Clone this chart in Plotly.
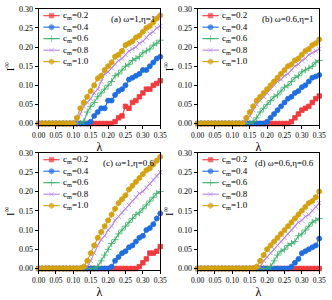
import plotly.graph_objects as go

lam = [round(i * 0.01, 2) for i in range(36)]

def pad(vals):
    return [0.0] * (36 - len(vals)) + vals

# Panel (a) omega=1, eta=1
a_c02 = pad([0.005, 0.015, 0.02, 0.045, 0.04, 0.055, 0.06, 0.07, 0.08, 0.09, 0.09, 0.10, 0.105, 0.112])
a_c04 = pad([0.005, 0.02, 0.03, 0.04, 0.04, 0.06, 0.06, 0.075, 0.085, 0.09, 0.10, 0.115, 0.12, 0.125, 0.13, 0.14, 0.14, 0.15, 0.16, 0.17, 0.175])
a_c06 = pad([0.005, 0.03, 0.045, 0.055, 0.07, 0.08, 0.09, 0.10, 0.11, 0.125, 0.13, 0.14, 0.15, 0.155, 0.165, 0.17, 0.175, 0.185, 0.19, 0.195, 0.205, 0.21, 0.218])
a_c08 = pad([0.025, 0.045, 0.055, 0.065, 0.08, 0.09, 0.11, 0.13, 0.135, 0.145, 0.155, 0.165, 0.17, 0.18, 0.19, 0.195, 0.20, 0.21, 0.215, 0.225, 0.235, 0.24, 0.25, 0.255])
a_c10 = pad([0.015, 0.04, 0.055, 0.07, 0.085, 0.10, 0.118, 0.125, 0.14, 0.15, 0.16, 0.175, 0.18, 0.19, 0.205, 0.21, 0.215, 0.225, 0.23, 0.24, 0.25, 0.255, 0.265, 0.275, 0.283])

# Panel (b) omega=0.6, eta=1
b_c02 = pad([0.005, 0.015, 0.025, 0.035, 0.04, 0.045, 0.055, 0.065, 0.072])
b_c04 = pad([0.005, 0.015, 0.025, 0.035, 0.045, 0.055, 0.065, 0.07, 0.08, 0.085, 0.095, 0.10, 0.11, 0.12, 0.123, 0.127])
b_c06 = pad([0.005, 0.015, 0.03, 0.04, 0.05, 0.06, 0.07, 0.075, 0.085, 0.095, 0.10, 0.11, 0.12, 0.125, 0.135, 0.14, 0.145, 0.15, 0.16, 0.165])
b_c08 = pad([0.005, 0.02, 0.035, 0.05, 0.06, 0.07, 0.08, 0.09, 0.10, 0.11, 0.115, 0.125, 0.13, 0.14, 0.15, 0.155, 0.165, 0.17, 0.18, 0.185, 0.19, 0.195])
b_c10 = pad([0.015, 0.03, 0.045, 0.06, 0.07, 0.08, 0.09, 0.10, 0.11, 0.12, 0.13, 0.14, 0.15, 0.155, 0.165, 0.17, 0.18, 0.19, 0.195, 0.205, 0.21, 0.22])

# Panel (c) omega=1, eta=0.6
c_c02 = pad([0.005, 0.015, 0.025, 0.04, 0.04, 0.045, 0.057])
c_c04 = pad([0.005, 0.02, 0.03, 0.04, 0.045, 0.055, 0.06, 0.07, 0.08, 0.085, 0.10, 0.105, 0.115, 0.13, 0.143])
c_c06 = pad([0.005, 0.02, 0.035, 0.05, 0.065, 0.075, 0.09, 0.10, 0.11, 0.12, 0.13, 0.14, 0.145, 0.155, 0.165, 0.175, 0.185, 0.195, 0.20])
c_c08 = pad([0.005, 0.02, 0.04, 0.06, 0.075, 0.085, 0.10, 0.11, 0.125, 0.135, 0.145, 0.155, 0.165, 0.175, 0.185, 0.195, 0.20, 0.21, 0.22, 0.23, 0.24, 0.25])
c_c10 = pad([0.005, 0.02, 0.04, 0.06, 0.08, 0.095, 0.11, 0.125, 0.14, 0.155, 0.17, 0.18, 0.19, 0.205, 0.215, 0.225, 0.235, 0.245, 0.255, 0.26, 0.27, 0.28, 0.29])

# Panel (d) omega=0.6, eta=0.6
d_c02 = pad([])
d_c04 = pad([0.005, 0.015, 0.025, 0.04, 0.045, 0.05, 0.055, 0.06, 0.078])
d_c06 = pad([0.005, 0.02, 0.035, 0.045, 0.05, 0.06, 0.065, 0.07, 0.085, 0.09, 0.10, 0.11, 0.12, 0.125, 0.13])
d_c08 = pad([0.005, 0.02, 0.03, 0.04, 0.05, 0.06, 0.07, 0.08, 0.09, 0.10, 0.11, 0.12, 0.125, 0.135, 0.14, 0.15, 0.16, 0.17])
d_c10 = pad([0.005, 0.02, 0.035, 0.05, 0.06, 0.07, 0.08, 0.09, 0.10, 0.11, 0.12, 0.13, 0.14, 0.15, 0.16, 0.17, 0.175, 0.185, 0.20])

series_names = ["c<sub>m</sub>=0.2", "c<sub>m</sub>=0.4", "c<sub>m</sub>=0.6", "c<sub>m</sub>=0.8", "c<sub>m</sub>=1.0"]
panel_labels = ["(a) ω=1,η=1", "(b) ω=0.6,η=1", "(c) ω=1,η=0.6", "(d) ω=0.6,η=0.6"]
panels = [
    [a_c02, a_c04, a_c06, a_c08, a_c10],
    [b_c02, b_c04, b_c06, b_c08, b_c10],
    [c_c02, c_c04, c_c06, c_c08, c_c10],
    [d_c02, d_c04, d_c06, d_c08, d_c10],
]
x_ticks = [0.00, 0.05, 0.10, 0.15, 0.20, 0.25, 0.30, 0.35]
y_ticks = [0.00, 0.05, 0.10, 0.15, 0.20, 0.25, 0.30]

colors = ["#f03a3d", "#1f6ee0", "#3aae6a", "#b784e6", "#d4a10f"]
symbols = ["square", "circle", "cross-thin", "x-thin", "hexagon"]
msizes = [4.5, 5, 5, 4.5, 5.5]

W, H = 332, 300
# plot-area pixel boxes: (left, right, top, bottom)
boxes = [(33, 160, 5, 124), (199, 326, 5, 124), (33, 160, 153, 273), (199, 326, 153, 273)]

FONT = "Liberation Serif"
fig = go.Figure()
layout = dict(width=W, height=H, margin=dict(l=0, r=0, t=0, b=0),
              paper_bgcolor="white", plot_bgcolor="rgba(0,0,0,0)", showlegend=False,
              font=dict(family=FONT, color="black"))
annotations = []

for p, (l, r, t, b) in enumerate(boxes):
    k = p + 1
    xa = "xaxis" if k == 1 else f"xaxis{k}"
    ya = "yaxis" if k == 1 else f"yaxis{k}"
    xr = "x" if k == 1 else f"x{k}"
    yr = "y" if k == 1 else f"y{k}"
    layout[xa] = dict(domain=[l / W, r / W], anchor=yr, range=[0, 0.35],
                      tickvals=x_ticks, ticktext=[f"{v:.2f}" for v in x_ticks],
                      ticks="outside", ticklen=3, tickwidth=1, tickcolor="black",
                      showline=True, linecolor="black", linewidth=1, mirror=True,
                      showgrid=False, zeroline=False,
                      tickfont=dict(size=7.5, family=FONT),
                      title=dict(text="λ", font=dict(size=12, family=FONT), standoff=3))
    layout[ya] = dict(domain=[1 - b / H, 1 - t / H], anchor=xr, range=[-0.003, 0.30],
                      tickvals=y_ticks, ticktext=[f"{v:.2f}" for v in y_ticks],
                      ticks="outside", ticklen=3, tickwidth=1, tickcolor="black",
                      showline=True, linecolor="black", linewidth=1, mirror=True,
                      showgrid=False, zeroline=False,
                      tickfont=dict(size=8, family=FONT),
                      title=dict(text="I<sup>∞</sup>", font=dict(size=11, family=FONT), standoff=2))
    for s, vals in enumerate(panels[p]):
        fig.add_trace(go.Scatter(x=lam, y=vals, mode="lines+markers", xaxis=xr, yaxis=yr,
                                 line=dict(color=colors[s], width=1.1),
                                 marker=dict(symbol=symbols[s], size=msizes[s], color=colors[s],
                                             line=dict(color=colors[s], width=0.8)),
                                 cliponaxis=False, name=series_names[s]))
    # panel label
    annotations.append(dict(x=(r - 3) / W, y=1 - (t + 10) / H, xref="paper", yref="paper",
                            text=panel_labels[p], showarrow=False, xanchor="right", yanchor="middle",
                            font=dict(size=9, family=FONT)))

# custom compact legends on a pixel-space overlay axis
layout["xaxis5"] = dict(domain=[0, 1], range=[0, W], visible=False, fixedrange=True, anchor="y5")
layout["yaxis5"] = dict(domain=[0, 1], range=[H, 0], visible=False, fixedrange=True, anchor="x5")
for p, (l, r, t, b) in enumerate(boxes):
    for s in range(5):
        yy = t + 7 + 11.8 * s
        x0, x1 = l + 5, l + 22
        fig.add_trace(go.Scatter(x=[x0, (x0 + x1) / 2, x1], y=[yy, yy, yy], xaxis="x5", yaxis="y5",
                                 mode="lines+markers", line=dict(color=colors[s], width=1.1),
                                 marker=dict(symbol=symbols[s], size=[0, msizes[s], 0], color=colors[s],
                                             line=dict(color=colors[s], width=0.8)),
                                 hoverinfo="skip"))
        annotations.append(dict(x=(x1 + 1) / W, y=1 - yy / H, xref="paper", yref="paper",
                                text=series_names[s], showarrow=False, xanchor="left", yanchor="middle",
                                font=dict(size=9, family=FONT)))

layout["annotations"] = annotations
fig.update_layout(**layout)
fig.write_html("out.html", config={"displayModeBar": False},
               post_script="document.body.style.margin='0';document.body.style.overflow='hidden';")
